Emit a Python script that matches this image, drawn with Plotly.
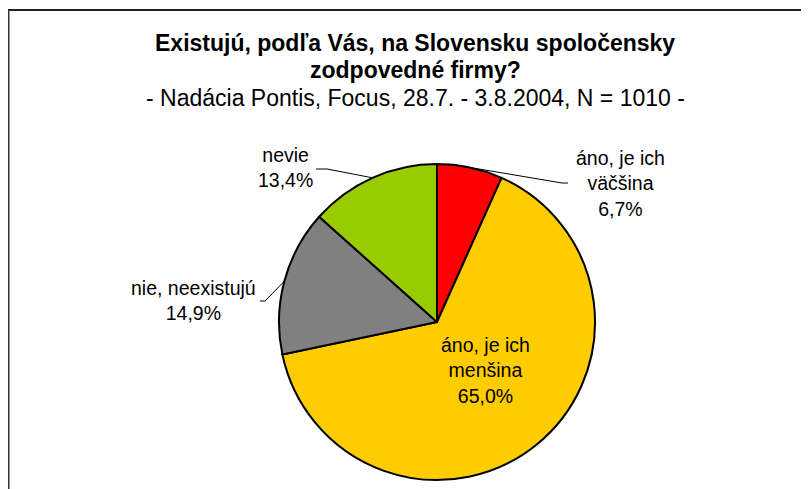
import math
import plotly.graph_objects as go

# ---- data ----
categories = ["áno, je ich väčšina", "áno, je ich menšina", "nie, neexistujú", "nevie"]
label_lines = ["áno, je ich<br>väčšina", "áno, je ich<br>menšina", "nie, neexistujú", "nevie"]
values = [6.7, 65.0, 14.9, 13.4]
colors = ["#FF0000", "#FFCC00", "#808080", "#99CC00"]

title_line1 = "Existujú, podľa Vás, na Slovensku spoločensky"
title_line2 = "zodpovedné firmy?"
subtitle = "- Nadácia Pontis, Focus, 28.7. - 3.8.2004, N = 1010 -"

# ---- layout (page pixels; the page body has an 8px margin) ----
W, H = 809, 489
OFF = 8
CX, CY, R = 437, 322, 158
FONT = "Liberation Sans, Arial, sans-serif"

label_pos = [(620, 183.5), (485, 370), (193, 300), (285, 168)]
leader_start = [((568, 183), (562, 183)), None, ((260, 301), (265, 301)), ((316, 169), (327, 169))]


def px(x):
    return (x - OFF) / W


def py(y):
    return 1 - (y - OFF) / H


fig = go.Figure(
    go.Pie(
        labels=categories,
        values=values,
        sort=False,
        direction="clockwise",
        rotation=0,
        marker=dict(colors=colors, line=dict(color="#000000", width=2)),
        textinfo="none",
        hoverinfo="label+percent",
        showlegend=False,
        domain=dict(x=[px(CX - R), px(CX + R)], y=[py(CY + R), py(CY - R)]),
    )
)

annotations = []
shapes = []
total = sum(values)
cum = 0.0
for i, v in enumerate(values):
    mid = (cum + v / 2) / total * 2 * math.pi
    cum += v
    ex = CX + R * math.sin(mid)
    ey = CY - R * math.cos(mid)
    pct = f"{v:.1f}".replace(".", ",") + "%"
    lx, ly = label_pos[i]
    annotations.append(
        dict(
            x=px(lx), y=py(ly), xref="paper", yref="paper",
            text=f"{label_lines[i]}<br>{pct}",
            showarrow=False, xanchor="center", yanchor="middle", align="center",
            font=dict(family=FONT, size=19.5, color="#000000"),
        )
    )
    if leader_start[i] is not None:
        (x0, y0), (x1, y1) = leader_start[i]
        shapes.append(
            dict(
                type="path", xref="paper", yref="paper",
                path=f"M {px(x0)} {py(y0)} L {px(x1)} {py(y1)} L {px(ex)} {py(ey)}",
                line=dict(color="#000000", width=1),
            )
        )

for txt, y, bold, size in [(title_line1, 43, True, 23), (title_line2, 70, True, 23), (subtitle, 98, False, 23)]:
    annotations.append(
        dict(
            x=px(415), y=py(y), xref="paper", yref="paper",
            text=f"<b>{txt}</b>" if bold else txt,
            showarrow=False, xanchor="center", yanchor="middle",
            font=dict(family=FONT, size=size, color="#000000"),
        )
    )

# chart frame (top and left edges visible)
shapes.append(dict(type="line", xref="paper", yref="paper", x0=px(8), x1=1.0, y0=py(10), y1=py(10),
                   line=dict(color="#222222", width=2)))
shapes.append(dict(type="line", xref="paper", yref="paper", x0=px(8.75), x1=px(8.75), y0=py(10), y1=0.0,
                   line=dict(color="#333333", width=1.5)))

fig.update_layout(
    width=W, height=H,
    margin=dict(l=0, r=0, t=0, b=0),
    paper_bgcolor="#FFFFFF",
    plot_bgcolor="#FFFFFF",
    annotations=annotations,
    shapes=shapes,
    font=dict(family=FONT),
)

fig.write_html("out.html")
